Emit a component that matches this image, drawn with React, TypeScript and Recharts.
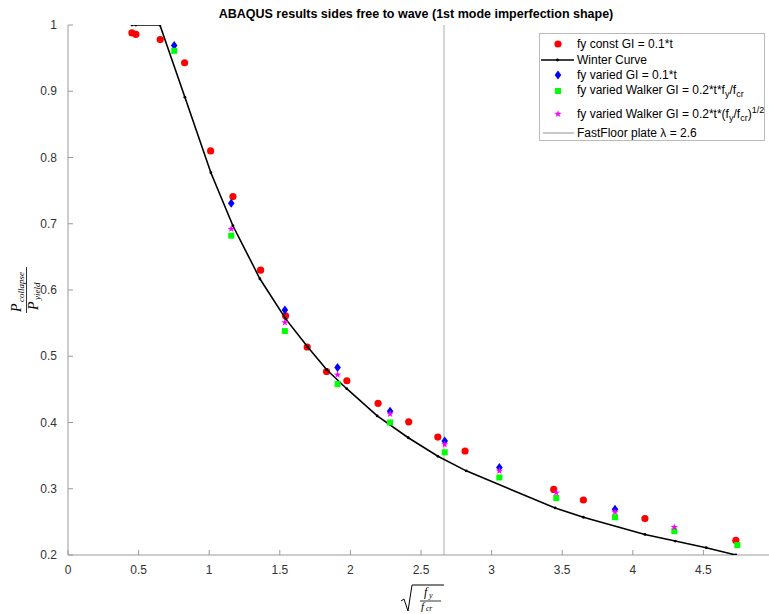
import { ScatterChart, Scatter, XAxis, YAxis, ReferenceLine } from 'recharts';

// Winter curve (black line with small dots)
const winterX = [0.453, 0.481, 0.651, 0.828, 1.012, 1.168, 1.359, 1.543, 1.698, 1.831, 1.974, 2.19, 2.41, 2.62, 2.82, 3.45, 3.65, 4.086, 4.3, 4.52, 4.73];
const winterY = [1, 1, 1, 0.891, 0.777, 0.697, 0.617, 0.556, 0.514, 0.48, 0.451, 0.41, 0.377, 0.349, 0.327, 0.271, 0.257, 0.231, 0.221, 0.211, 0.2];

// fy const GI = 0.1*t (red circles)
const constX = [0.453, 0.481, 0.653, 0.826, 1.01, 1.168, 1.364, 1.541, 1.694, 1.831, 1.975, 2.196, 2.413, 2.619, 2.812, 3.44, 3.65, 4.086, 4.73];
const constY = [0.988, 0.986, 0.978, 0.943, 0.81, 0.741, 0.63, 0.561, 0.514, 0.477, 0.463, 0.429, 0.401, 0.378, 0.357, 0.299, 0.283, 0.255, 0.222];

// fy varied GI = 0.1*t (blue diamonds)
const variedX = [0.752, 1.156, 1.536, 1.909, 2.281, 2.668, 3.055, 3.874];
const variedY = [0.969, 0.731, 0.57, 0.483, 0.417, 0.372, 0.332, 0.269];

// Walker GI = 0.2*t*fy/fcr (green squares)
const walkerX = [0.752, 1.156, 1.536, 1.909, 2.281, 2.668, 3.055, 3.458, 3.874, 4.294, 4.74];
const walkerY = [0.961, 0.682, 0.538, 0.458, 0.4, 0.355, 0.317, 0.286, 0.257, 0.236, 0.215];

// Walker GI = 0.2*t*(fy/fcr)^1/2 (magenta stars)
const walkerSqrtX = [1.156, 1.536, 1.909, 2.281, 2.668, 3.055, 3.458, 3.874, 4.294];
const walkerSqrtY = [0.692, 0.551, 0.472, 0.413, 0.367, 0.327, 0.294, 0.265, 0.242];

const fastFloorLambda = 2.663;

const xTicks = [0, 0.5, 1, 1.5, 2, 2.5, 3, 3.5, 4, 4.5];
const yTicks = [0.2, 0.3, 0.4, 0.5, 0.6, 0.7, 0.8, 0.9, 1];

const toPoints = (xs: number[], ys: number[]) => xs.map((x, i) => ({ x, y: ys[i] }));

const FONT = '"Liberation Sans", Arial, sans-serif';
const SERIF = '"Liberation Serif", "Times New Roman", serif';
const AXIS = '#9a9a9a';
const TEXT = '#333';

const starPath = (cx: number, cy: number, r: number) => {
  let d = '';
  for (let i = 0; i < 10; i++) {
    const rr = i % 2 === 0 ? r : r * 0.4;
    const a = -Math.PI / 2 + (i * Math.PI) / 5;
    d += (i === 0 ? 'M' : 'L') + (cx + rr * Math.cos(a)).toFixed(2) + ',' + (cy + rr * Math.sin(a)).toFixed(2);
  }
  return d + 'Z';
};

const RedDot = (p: any) => <circle cx={p.cx} cy={p.cy} r={3.6} fill="#ff0000" />;
const BlueDiamond = (p: any) => (
  <path d={`M${p.cx},${p.cy - 4.5}L${p.cx + 3.3},${p.cy}L${p.cx},${p.cy + 4.5}L${p.cx - 3.3},${p.cy}Z`} fill="#0000ff" />
);
const GreenSquare = (p: any) => <rect x={p.cx - 3} y={p.cy - 3} width={6} height={6} fill="#00ff00" />;
const MagentaStar = (p: any) => <path d={starPath(p.cx, p.cy, 3.8)} fill="#ff00ff" />;
const BlackDot = (p: any) => <circle cx={p.cx} cy={p.cy} r={1.4} fill="#000" />;

const XTick = ({ x, y, payload }: any) => (
  <g>
    <line x1={x} x2={x} y1={y} y2={y - 5} stroke={AXIS} />
    <text x={x} y={y + 19} textAnchor="middle" fontSize={12} fill={TEXT} fontFamily={FONT}>
      {payload.value}
    </text>
  </g>
);

const YTick = ({ x, y, payload }: any) => (
  <g>
    <line x1={x} x2={x + 5} y1={y} y2={y} stroke={AXIS} />
    <text x={x - 11} y={y + 4} textAnchor="end" fontSize={12} fill={TEXT} fontFamily={FONT}>
      {payload.value === 1 ? '1' : payload.value.toFixed(1)}
    </text>
  </g>
);

const Overlay = () => (
  <svg width={769} height={614} style={{ position: 'absolute', left: 0, top: 0, pointerEvents: 'none' }}>
    <text x={416} y={18} textAnchor="middle" fontSize={12.5} fontWeight="bold" fill="#000" fontFamily={FONT}>
      ABAQUS results sides free to wave (1st mode imperfection shape)
    </text>

    {/* y label: P_collapse / P_yield */}
    <g transform="translate(26.5,290) rotate(-90)" fontFamily={SERIF} fontStyle="italic" fill="#000">
      <line x1={-23} x2={23} y1={0} y2={0} stroke="#000" strokeWidth={0.8} />
      <text x={-22} y={-6} fontSize={14}>P</text>
      <text x={-12} y={-3} fontSize={9}>collapse</text>
      <text x={-20} y={11} fontSize={14}>P</text>
      <text x={-10} y={13} fontSize={9}>yield</text>
    </g>

    {/* x label: sqrt(fy/fcr) */}
    <g fontFamily={SERIF} fontStyle="italic" fill="#000">
      <path d="M401,601 L404,599 L408,611 L412,585 L444,585" fill="none" stroke="#000" strokeWidth={1} />
      <line x1={420} x2={441} y1={601} y2={601} stroke="#000" strokeWidth={0.8} />
      <text x={424} y={596} fontSize={12}>f</text>
      <text x={429} y={598} fontSize={8}>y</text>
      <text x={421} y={609.5} fontSize={11}>f</text>
      <text x={426} y={611} fontSize={7.5}>cr</text>
    </g>

    {/* legend */}
    <g fontFamily={FONT} fontSize={12} fill="#000">
      <rect x={539.5} y={33.5} width={225} height={107} fill="#fff" stroke="#bbb" />
      <circle cx={558} cy={44} r={3.6} fill="#ff0000" />
      <text x={577} y={48}>fy const GI = 0.1*t</text>

      <line x1={541} x2={574} y1={60} y2={60} stroke="#000" strokeWidth={1.5} />
      <circle cx={557.5} cy={60} r={1.4} fill="#000" />
      <text x={577} y={64}>Winter Curve</text>

      <path d="M558,70.5L561.3,75L558,79.5L554.7,75Z" fill="#0000ff" />
      <text x={577} y={79}>fy varied GI = 0.1*t</text>

      <rect x={555} y={88} width={6} height={6} fill="#00ff00" />
      <text x={577} y={94}>
        fy varied Walker GI = 0.2*t*f<tspan fontSize={9} dy={3}>y</tspan>
        <tspan dy={-3}>/f</tspan>
        <tspan fontSize={9} dy={3}>cr</tspan>
      </text>

      <path d={starPath(558, 114, 3.8)} fill="#ff00ff" />
      <text x={577} y={118}>
        fy varied Walker GI = 0.2*t*(f<tspan fontSize={9} dy={3}>y</tspan>
        <tspan dy={-3}>/f</tspan>
        <tspan fontSize={9} dy={3}>cr</tspan>
        <tspan dy={-3}>)</tspan>
        <tspan fontSize={9} dy={-5}>1/2</tspan>
      </text>

      <line x1={543} x2={574} y1={133} y2={133} stroke="#777" strokeWidth={0.8} />
      <text x={577} y={137}>FastFloor plate λ = 2.6</text>
    </g>
  </svg>
);

export default function App() {
  return (
    <div style={{ position: 'absolute', left: 0, top: 0, width: 769, height: 614, overflow: 'hidden', background: '#fff' }}>
      <ScatterChart width={780} height={614} margin={{ top: 25, right: 6, bottom: 29, left: 8 }}>
        <XAxis
          type="number"
          dataKey="x"
          domain={[0, 5]}
          ticks={xTicks}
          allowDataOverflow
          height={30}
          tickSize={0}
          tickMargin={0}
          tickLine={false}
          axisLine={{ stroke: AXIS }}
          tick={<XTick />}
        />
        <YAxis
          type="number"
          dataKey="y"
          domain={[0.2, 1]}
          ticks={yTicks}
          allowDataOverflow
          width={60}
          tickSize={0}
          tickMargin={0}
          tickLine={false}
          axisLine={{ stroke: AXIS }}
          tick={<YTick />}
        />
        <ReferenceLine x={fastFloorLambda} stroke="#c8c8c8" strokeWidth={1.5} />
        <Scatter data={toPoints(constX, constY)} shape={<RedDot />} isAnimationActive={false} />
        <Scatter
          data={toPoints(winterX, winterY)}
          shape={<BlackDot />}
          line={{ stroke: '#000', strokeWidth: 1.6 }}
          lineType="joint"
          isAnimationActive={false}
        />
        <Scatter data={toPoints(variedX, variedY)} shape={<BlueDiamond />} isAnimationActive={false} />
        <Scatter data={toPoints(walkerX, walkerY)} shape={<GreenSquare />} isAnimationActive={false} />
        <Scatter data={toPoints(walkerSqrtX, walkerSqrtY)} shape={<MagentaStar />} isAnimationActive={false} />
      </ScatterChart>
      <Overlay />
    </div>
  );
}
